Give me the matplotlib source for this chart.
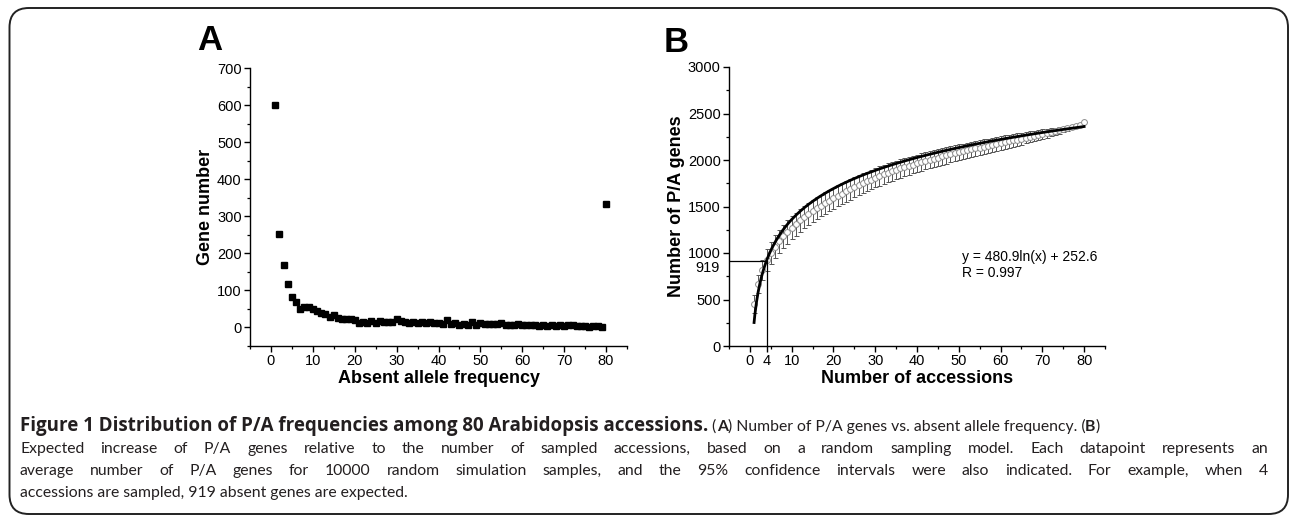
import matplotlib
matplotlib.use("Agg")
import matplotlib.pyplot as plt
from matplotlib.patches import FancyBboxPatch
from matplotlib.ticker import MultipleLocator
import numpy as np

# ---- data: panel A (absent allele frequency 1..80) ----
freq = list(range(1, 81))
gene_number = [600, 252, 168, 118, 83, 70, 50, 55, 55, 50,
               45, 38, 37, 28, 33, 25, 22, 24, 22, 20,
               13, 15, 13, 18, 13, 18, 14, 15, 14, 22,
               17, 15, 11, 14, 13, 14, 12, 14, 11, 12,
               10, 20, 10, 13, 7, 10, 7, 14, 8, 13,
               10, 10, 9, 9, 12, 8, 6, 7, 9, 8,
               7, 6, 6, 4, 8, 5, 6, 4, 7, 5,
               6, 7, 4, 3, 3, 2, 4, 3, 2, 333]

# ---- data: panel B (number of sampled accessions 1..80) ----
accessions = list(range(1, 81))
pa_mean = [452, 667, 817, 925, 1002, 1069, 1126, 1178, 1226, 1270,
           1311, 1350, 1386, 1420, 1451, 1481, 1510, 1538, 1564, 1590,
           1614, 1639, 1662, 1685, 1707, 1729, 1750, 1770, 1790, 1810,
           1828, 1845, 1862, 1878, 1894, 1909, 1924, 1938, 1951, 1965,
           1977, 1990, 2002, 2014, 2026, 2038, 2049, 2060, 2072, 2083,
           2093, 2104, 2114, 2124, 2134, 2144, 2154, 2163, 2173, 2182,
           2192, 2201, 2211, 2220, 2230, 2240, 2249, 2259, 2268, 2278,
           2288, 2298, 2308, 2318, 2329, 2340, 2352, 2364, 2378, 2410]
pa_ci = [95, 100, 108, 115,
         120, 122, 124, 125, 125, 124, 123, 122, 121, 120, 119,
         118, 117, 116, 115, 114, 113, 112, 111, 110, 109, 108, 107, 106, 105, 104,
         103, 102, 101, 100, 99, 98, 97, 96, 95, 94, 93, 92, 91, 90, 89, 88, 87, 86, 85, 84,
         83, 82, 81, 80, 79, 78, 77, 76, 75, 74, 72, 70, 68, 66, 64, 62, 60, 57, 54, 51,
         48, 44, 40, 36, 31, 26, 20, 14, 8, 0]
fit_a, fit_b = 480.9, 252.6
example_n, example_genes = 4, 919

xticks_b = [0, 4, 10, 20, 30, 40, 50, 60, 70, 80]

W, H = 1290, 516
plt.rcParams['font.family'] = ['Liberation Sans', 'DejaVu Sans']
fig = plt.figure(figsize=(W / 100, H / 100), dpi=100)


def style_axes(ax):
    for s in ("top", "right"):
        ax.spines[s].set_visible(False)
    for s in ("left", "bottom"):
        ax.spines[s].set_linewidth(1.0)
    ax.tick_params(which="major", direction="out", length=4, width=1, labelsize=10.5, pad=2)
    ax.tick_params(which="minor", direction="out", length=2.5, width=0.9)


# panel A
axA = fig.add_axes([250 / W, 1 - 346 / H, 377 / W, 278 / H])
axA.plot(freq, gene_number, "s", color="black", markersize=5)
axA.set_xlim(-5, 85)
axA.set_ylim(-50, 700)
axA.set_xticks(range(0, 81, 10))
axA.set_yticks(range(0, 701, 100))
axA.xaxis.set_minor_locator(MultipleLocator(5))
axA.yaxis.set_minor_locator(MultipleLocator(50))
style_axes(axA)
axA.set_xlabel("Absent allele frequency", fontsize=13, fontweight="bold", labelpad=1)
axA.set_ylabel("Gene number", fontsize=13, fontweight="bold", labelpad=2)

# panel B
axB = fig.add_axes([729 / W, 1 - 346 / H, 376 / W, 279 / H])
axB.errorbar(accessions, pa_mean, yerr=pa_ci, fmt="o", markersize=4.2,
             markerfacecolor="white", markeredgecolor="#8c8c8c", markeredgewidth=0.7,
             ecolor="#555555", elinewidth=0.7, capsize=1.8, capthick=0.7, zorder=2)
xs = np.linspace(1, 80, 400)
axB.plot(xs, fit_a * np.log(xs) + fit_b, color="black", lw=2.0, zorder=3)
axB.plot([-5, example_n], [example_genes, example_genes], color="black", lw=0.9, zorder=4)
axB.plot([example_n, example_n], [0, example_genes], color="black", lw=0.9, zorder=4)
axB.set_xlim(-5, 85)
axB.set_ylim(0, 3000)
axB.set_xticks(xticks_b)
axB.set_yticks(range(0, 3001, 500))
axB.xaxis.set_minor_locator(MultipleLocator(5))
axB.yaxis.set_minor_locator(MultipleLocator(250))
style_axes(axB)
axB.text(-0.024, example_genes, str(example_genes), transform=axB.get_yaxis_transform(),
         ha="right", va="top", fontsize=10.5)
axB.text(50.7, 957, "y = 480.9ln(x) + 252.6", fontsize=10, va="center")
axB.text(50.7, 785, "R = 0.997", fontsize=10, va="center")
axB.set_xlabel("Number of accessions", fontsize=13, fontweight="bold", labelpad=1)
axB.set_ylabel("Number of P/A genes", fontsize=13, fontweight="bold", labelpad=2)

# panel letters
fig.text(197 / W, 1 - 50 / H, "A", fontsize=25, fontweight="bold", va="baseline")
fig.text(664 / W, 1 - 52 / H, "B", fontsize=25, fontweight="bold", va="baseline")

# rounded frame
frame = FancyBboxPatch((9.5 / W, 1 - 514 / H), (1288 - 9.5) / W, (514 - 8) / H,
                       boxstyle="round,pad=0,rounding_size=0.015", transform=fig.transFigure,
                       facecolor="none", edgecolor="#222222", lw=1.4, mutation_aspect=W / H)
fig.patches.append(frame)

# caption
cap_font = ['Lato', 'DejaVu Sans']
title_font = ['Open Sans', 'DejaVu Sans']
cap_size = 11.3
title_size = 13.5
cap_color = "#231f20"
left_px, right_px = 20, 1268
renderer = fig.canvas.get_renderer()
pieces = [("Figure 1 Distribution of P/A frequencies among 80 Arabidopsis accessions.", "bold", title_font, title_size),
          (" (", "normal", cap_font, cap_size), ("A", "bold", cap_font, cap_size),
          (") Number of P/A genes vs. absent allele frequency. (", "normal", cap_font, cap_size),
          ("B", "bold", cap_font, cap_size), (")", "normal", cap_font, cap_size)]
x = left_px
for txt, wt, fam, sz in pieces:
    t = fig.text(x / W, 1 - 431 / H, txt, fontsize=sz, fontweight=wt, family=fam,
                 color=cap_color, va="baseline")
    x = t.get_window_extent(renderer).x1

lines = ["Expected increase of P/A genes relative to the number of sampled accessions, based on a random sampling model. Each datapoint represents an",
         "average number of P/A genes for 10000 random simulation samples, and the 95% confidence intervals were also indicated. For example, when 4",
         "accessions are sampled, 919 absent genes are expected."]
for i, ln in enumerate(lines):
    ybase = 1 - (453 + 22 * i) / H
    if i < len(lines) - 1:
        # justified line: spread words between left and right margins
        words = ln.split(" ")
        objs = [fig.text(0, ybase, w, fontsize=cap_size, family=cap_font,
                         color=cap_color, va="baseline") for w in words]
        widths = [o.get_window_extent(renderer).width for o in objs]
        gap = (right_px - left_px - sum(widths)) / (len(words) - 1)
        x = left_px
        for o, w in zip(objs, widths):
            o.set_x(x / W)
            x += w + gap
    else:
        fig.text(left_px / W, ybase, ln, fontsize=cap_size, family=cap_font,
                 color=cap_color, va="baseline")

fig.savefig("out.png", dpi=100)
